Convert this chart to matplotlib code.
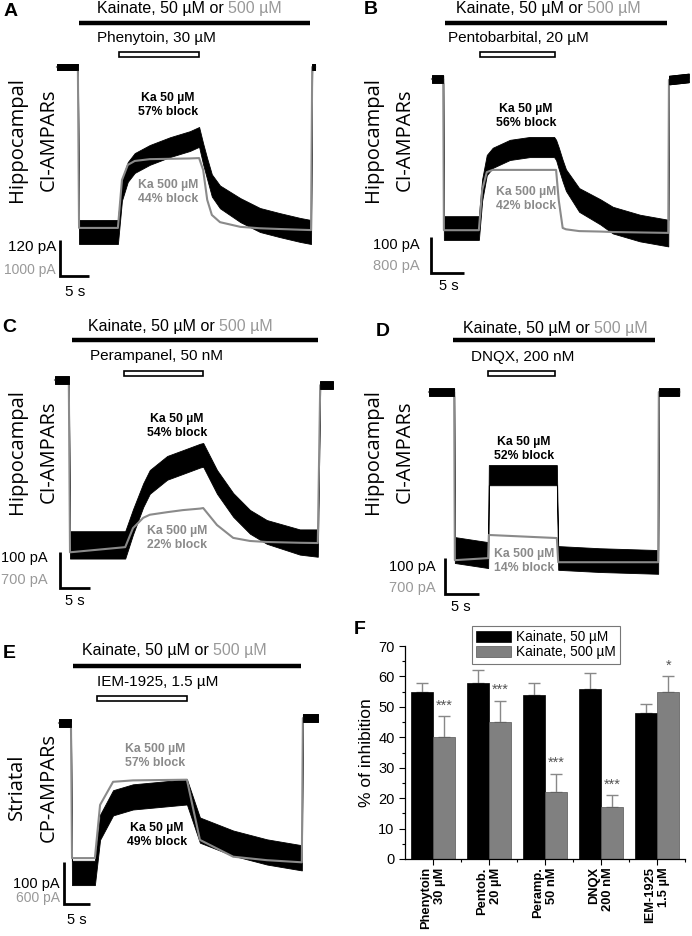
import numpy as np
import matplotlib
matplotlib.use("Agg")
import matplotlib.pyplot as plt
from matplotlib.patches import Rectangle

# ---- traces (time in s, current in pA; grey trace in its own pA scale) ----
a_t = [0, 3.6, 3.8, 10.5, 11.2, 12.2, 13.4, 16.0, 19.5, 22.9, 24.5, 25.2, 25.9,
       26.7, 28.1, 31.6, 35.0, 38.4, 41.9, 43.8, 44.0, 44.5]
a_black = [0, 0, -550, -550, -410, -350, -320, -293, -267, -247, -233, -290, -340,
           -395, -433, -477, -510, -527, -543, -550, 0, 0]
a_noise = [10, 10, 40, 40, 35, 33, 33, 33, 33, 33, 33, 35, 35, 37, 38, 40, 40, 40,
           40, 40, 10, 10]
a_grey = [0, 0, -4470, -4470, -3140, -2720, -2610, -2560, -2550, -2540, -2530,
          -2860, -3690, -4110, -4310, -4440, -4480, -4500, -4520, -4530, 0, 0]

b_t = [0, 1.7, 1.8, 7.1, 7.6, 8.3, 9.2, 11.8, 14.8, 18.5, 18.8, 19.2, 19.8, 20.3,
       22.3, 25.5, 27.4, 31.5, 35.8, 35.9, 38.9]
b_black = [0, 0, -414, -414, -308, -239, -219, -197, -189, -189, -197, -220, -255,
           -281, -336, -369, -392, -414, -428, -3, 3]
b_noise = [10, 10, 33, 33, 30, 28, 28, 28, 28, 28, 28, 30, 30, 30, 33, 35, 37, 37,
           37, 12, 12]
b_grey = [0, 0, -3360, -3360, -2470, -2070, -2020, -2020, -2020, -2020, -2020,
          -2690, -3310, -3340, -3380, -3390, -3400, -3410, -3420, -20, -20]

c_t = [0, 2.3, 2.5, 11.7, 13.0, 14.7, 15.8, 18.7, 21.3, 24.2, 24.7, 27.0, 29.7,
       32.5, 35.3, 40.8, 43.8, 44.2, 46.3]
c_black = [0, 0, -458, -458, -394, -320, -283, -244, -228, -210, -208, -283, -347,
           -394, -422, -450, -453, -14, -14]
c_noise = [10, 10, 38, 38, 35, 33, 33, 33, 33, 33, 33, 33, 33, 33, 33, 35, 38, 10, 10]
c_grey = [0, 0, -3350, -3250, -2880, -2680, -2620, -2570, -2530, -2500, -2490,
          -2820, -3070, -3130, -3150, -3165, -3170, -100, -100]

d_t = [0, 3.7, 3.8, 8.7, 8.8, 18.8, 19.0, 25.1, 33.7, 33.8, 36.8]
d_black = [0, 0, -439, -453, -231, -231, -461, -467, -472, 0, 0]
d_noise = [10, 10, 36, 36, 28, 28, 33, 33, 33, 10, 10]
d_grey = [0, 0, -3270, -3230, -2780, -2840, -3310, -3310, -3310, 0, 0]

e_t = [0, 2.3, 2.5, 6.9, 7.9, 10.4, 14.2, 24.6, 27.1, 33.5, 40.0, 46.7, 46.9, 49.8]
e_black = [0, 0, -357, -357, -248, -190, -176, -164, -255, -286, -307, -321, 12, 12]
e_noise = [9, 9, 29, 29, 30, 30, 30, 30, 30, 30, 30, 30, 9, 9]
e_grey = [0, 0, -1930, -1930, -1170, -840, -820, -810, -1670, -1910, -1960, -1990,
          70, 70]

# application times (s)
kainate_on = [3.8, 2.0, 2.8, 3.5, 2.7]
kainate_off = [43.6, 35.6, 43.8, 33.2, 46.5]
drug_on = [10.7, 7.3, 11.5, 8.7, 7.3]
drug_off = [24.5, 18.6, 24.7, 18.5, 24.6]
drug_names = ["Phenytoin, 30 µM", "Pentobarbital, 20 µM", "Perampanel, 50 nM",
              "DNQX, 200 nM", "IEM-1925, 1.5 µM"]
scale_black = [120, 100, 100, 100, 100]
scale_grey = [1000, 800, 700, 700, 600]
block_black = [57, 56, 54, 52, 49]
block_grey = [44, 42, 22, 14, 57]
cell_labels = ["Hippocampal\nCI-AMPARs"] * 4 + ["Striatal\nCP-AMPARs"]

# ---- panel F ----
f_groups = ["Phenytoin\n30 µM", "Pentob.\n20 µM", "Peramp.\n50 nM",
            "DNQX\n200 nM", "IEM-1925\n1.5 µM"]
f_black = [55, 58, 54, 56, 48]
f_black_err = [3, 4, 4, 5, 3]
f_grey = [40, 45, 22, 17, 55]
f_grey_err = [7, 7, 6, 4, 5]
f_stars = ["***", "***", "***", "***", "*"]

W, H = 692, 936
plt.rcParams['font.family'] = ['Liberation Sans', 'DejaVu Sans']
fig = plt.figure(figsize=(W / 100, H / 100), dpi=100)

GREY_TR = "#8a8a8a"
GREY_TX = "#999999"


def fx(x):
    return x / W


def fy(y):
    return 1 - y / H


# layout of the trace panels (figure pixels)
panels = [
    dict(t=a_t, blk=a_black, nz=a_noise, gr=a_grey, x0=57, y0=67, pxs=5.8, sbpx=36,
         corner=(60, 276), ky=22.5, dy=54.5, ktxt=(97, 8), dtxt=(97, 38),
         letter="A", lxy=(11, 11), side=(33, 140), bl=(168, 105), gl=(168, 192),
         sbx=56, sby=(247, 270), sxy=(75, 292), sfs=(11, 10)),
    dict(t=b_t, blk=b_black, nz=b_noise, gr=b_grey, x0=432, y0=79, pxs=6.6, sbpx=36,
         corner=(431, 273), ky=23, dy=54.5, ktxt=(456, 8), dtxt=(448, 38),
         letter="B", lxy=(371, 9), side=(389, 140), bl=(526, 116), gl=(526, 199),
         sbx=420, sby=(245, 266), sxy=(449, 286), sfs=(10.5, 10.5)),
    dict(t=c_t, blk=c_black, nz=c_noise, gr=c_grey, x0=55, y0=380, pxs=6.0, sbpx=36,
         corner=(60, 588), ky=340, dy=373.5, ktxt=(88, 327), dtxt=(90, 356),
         letter="C", lxy=(9, 327), side=(33, 452), bl=(177, 426), gl=(177, 538),
         sbx=48, sby=(558, 580), sxy=(75, 601), sfs=(10.5, 10.5)),
    dict(t=d_t, blk=d_black, nz=d_noise, gr=d_grey, x0=429, y0=392, pxs=6.8, sbpx=36,
         corner=(445, 594), ky=340, dy=373.5, ktxt=(463, 328), dtxt=(471, 357),
         letter="D", lxy=(383, 331), side=(389, 452), bl=(524, 449), gl=(524, 561),
         sbx=436, sby=(567, 588), sxy=(461, 607), sfs=(10.5, 10.5)),
    dict(t=e_t, blk=e_black, nz=e_noise, gr=e_grey, x0=59, y0=723, pxs=5.2, sbpx=42,
         corner=(64, 904), ky=666, dy=698.5, ktxt=(82, 651), dtxt=(97, 682),
         letter="E", lxy=(9, 653), side=(33, 787), bl=(157, 835), gl=(155, 756),
         sbx=60, sby=(884, 898), sxy=(77, 920), sfs=(10.5, 10)),
]

for i, p in enumerate(panels):
    pxp = p["sbpx"] / scale_black[i]          # pixels per pA (black)
    ratio = scale_black[i] / scale_grey[i]    # grey pA -> black pA
    ax = fig.add_axes([0, 0, 1, 1])
    ax.set_xlim((0 - p["x0"]) / p["pxs"], (W - p["x0"]) / p["pxs"])
    ax.set_ylim((p["y0"] - H) / pxp, p["y0"] / pxp)
    ax.axis("off")
    ax.patch.set_alpha(0)

    t = np.array(p["t"])
    blk = np.array(p["blk"], dtype=float)
    nz = np.array(p["nz"], dtype=float)
    gr = np.array(p["gr"], dtype=float) * ratio
    ax.fill_between(t, blk - nz, blk + nz, color="black", lw=0.6, ec="black",
                    zorder=1)
    ax.plot(t, gr, color=GREY_TR, lw=1.5, zorder=2)
    # baseline (no agonist) stretches: black noise drawn on top of the grey
    for sl in (slice(0, 2), slice(-2, None)):
        ax.fill_between(t[sl], blk[sl] - nz[sl], blk[sl] + nz[sl], color="black",
                        lw=0.6, ec="black", zorder=3)

    # application bars
    ky = (p["y0"] - p["ky"]) / pxp
    ax.plot([kainate_on[i], kainate_off[i]], [ky, ky], color="black", lw=3.2,
            solid_capstyle="butt")
    dy = (p["y0"] - p["dy"]) / pxp
    hh = 5.5 / pxp
    ax.add_patch(Rectangle((drug_on[i], dy - hh / 2), drug_off[i] - drug_on[i], hh,
                           fc="white", ec="black", lw=1.2))

    # scale bar
    tc = (p["corner"][0] - p["x0"]) / p["pxs"]
    ic = (p["y0"] - p["corner"][1]) / pxp
    ax.plot([tc, tc, tc + 5], [ic + scale_black[i], ic, ic], color="black", lw=2.0,
            solid_capstyle="butt", solid_joinstyle="miter")

    # texts
    k1 = fig.text(fx(p["ktxt"][0]), fy(p["ktxt"][1]), "Kainate, 50 µM or ",
                  fontsize=11.5, ha="left", va="center")
    ax.annotate("500 µM", xy=(1, 0), xycoords=k1, ha="left", va="bottom",
                fontsize=11.5, color=GREY_TX, annotation_clip=False)
    fig.text(fx(p["dtxt"][0]), fy(p["dtxt"][1]), drug_names[i], fontsize=11,
             ha="left", va="center")
    fig.text(fx(p["lxy"][0]), fy(p["lxy"][1]), p["letter"], fontsize=14,
             fontweight="bold", ha="center", va="center")
    fig.text(fx(p["side"][0]), fy(p["side"][1]), cell_labels[i], fontsize=14.5,
             family="Open Sans", rotation=90, ha="center", va="center",
             linespacing=1.75)
    fig.text(fx(p["bl"][0]), fy(p["bl"][1]),
             "Ka 50 µM\n%d%% block" % block_black[i], fontsize=8.8,
             fontweight="bold", ha="center", va="center", linespacing=1.25)
    fig.text(fx(p["gl"][0]), fy(p["gl"][1]),
             "Ka 500 µM\n%d%% block" % block_grey[i], fontsize=8.8,
             fontweight="bold", ha="center", va="center", color=GREY_TR,
             linespacing=1.25)
    fig.text(fx(p["sbx"]), fy(p["sby"][0]), "%d pA" % scale_black[i],
             fontsize=p["sfs"][0], ha="right", va="center")
    fig.text(fx(p["sbx"]), fy(p["sby"][1]), "%d pA" % scale_grey[i],
             fontsize=p["sfs"][1], ha="right", va="center", color=GREY_TX)
    fig.text(fx(p["sxy"][0]), fy(p["sxy"][1]), "5 s", fontsize=p["sfs"][0],
             ha="center", va="center")

# ---- panel F ----
axf = fig.add_axes([fx(405), fy(859), (685 - 405) / W, (859 - 646) / H])
x = np.arange(len(f_groups))
bw = 0.4
axf.bar(x - bw / 2, f_black, bw, color="black", edgecolor="black", lw=0.5,
        label="Kainate, 50 µM", zorder=2)
axf.bar(x + bw / 2, f_grey, bw, color="#808080", edgecolor="#555555", lw=0.5,
        label="Kainate, 500 µM", zorder=2)
axf.errorbar(x - bw / 2, f_black, yerr=[[0] * 5, f_black_err], fmt="none",
             ecolor="#888888", elinewidth=1, capsize=4, capthick=1, zorder=1)
axf.errorbar(x + bw / 2, f_grey, yerr=[[0] * 5, f_grey_err], fmt="none",
             ecolor="#888888", elinewidth=1, capsize=4, capthick=1, zorder=1)
for xi, v, e, s in zip(x, f_grey, f_grey_err, f_stars):
    axf.text(xi + bw / 2, v + e + 2.2, s, ha="center", va="baseline",
             fontsize=10.5, color="#555555")

axf.set_xlim(-0.5, 4.5)
axf.set_ylim(0, 70)
axf.set_yticks(range(0, 71, 10))
axf.set_yticks(range(5, 70, 10), minor=True)
axf.set_xticks(x)
axf.set_xticks(x + 0.5, minor=True)
axf.set_xticklabels(f_groups, rotation=90, fontweight="bold", fontsize=9.3,
                    multialignment="right")
axf.tick_params(axis="y", labelsize=10.5, length=4, width=0.8, direction="out")
axf.tick_params(axis="y", which="minor", length=2.5, width=0.8)
axf.tick_params(axis="x", length=4, width=0.8, direction="out", pad=2)
axf.tick_params(axis="x", which="minor", length=2.5, width=0.8)
for side in ["top", "right"]:
    axf.spines[side].set_visible(False)
for side in ["left", "bottom"]:
    axf.spines[side].set_linewidth(0.9)
axf.set_ylabel("% of inhibition", fontsize=12.5, labelpad=3)
leg = axf.legend(loc="upper left", bbox_to_anchor=(fx(472), fy(626)),
                 bbox_transform=fig.transFigure, fontsize=9.8, frameon=True,
                 fancybox=False, borderpad=0.3, handlelength=2.6,
                 handleheight=0.85, handletextpad=0.35, labelspacing=0.1,
                 borderaxespad=0)
leg.get_frame().set_edgecolor("#555555")
leg.get_frame().set_linewidth(0.8)
fig.text(fx(360), fy(630), "F", fontsize=14, fontweight="bold", ha="center",
         va="center")

fig.savefig("out.png", dpi=100)
